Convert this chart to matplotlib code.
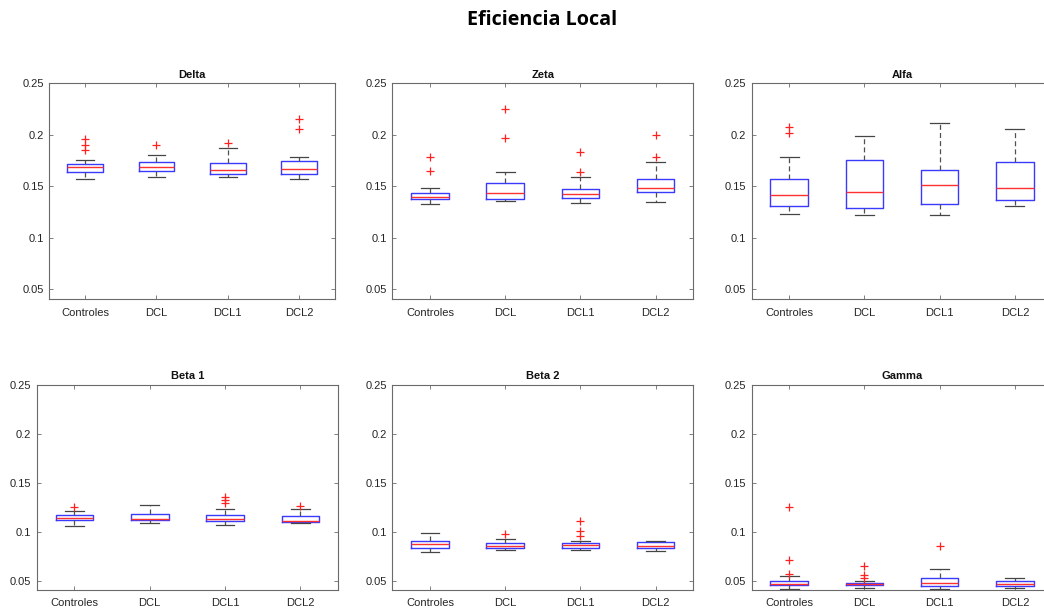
import matplotlib
matplotlib.use("Agg")
import matplotlib.pyplot as plt

groups = ["Controles", "DCL", "DCL1", "DCL2"]
panels = ["Delta", "Zeta", "Alfa", "Beta 1", "Beta 2", "Gamma"]
yticks = [0.05, 0.1, 0.15, 0.2, 0.25]
ytick_labels = ["0.05", "0.1", "0.15", "0.2", "0.25"]

# Box statistics per panel (rows) and group (columns)
whislo = [
    [0.1571, 0.1587, 0.1587, 0.1571],
    [0.1325, 0.1358, 0.1335, 0.1348],
    [0.1235, 0.1222, 0.1222, 0.1312],
    [0.1065, 0.1088, 0.1068, 0.1088],
    [0.0797, 0.0815, 0.0818, 0.0804],
    [0.0422, 0.0425, 0.0422, 0.0429],
]
q1 = [
    [0.1639, 0.1649, 0.1620, 0.1617],
    [0.1374, 0.1377, 0.1383, 0.1442],
    [0.1309, 0.1290, 0.1328, 0.1367],
    [0.1122, 0.1122, 0.1109, 0.1102],
    [0.0838, 0.0835, 0.0835, 0.0838],
    [0.0456, 0.0456, 0.0452, 0.0449],
]
med = [
    [0.1691, 0.1684, 0.1659, 0.1665],
    [0.1400, 0.1432, 0.1422, 0.1487],
    [0.1416, 0.1445, 0.1510, 0.1484],
    [0.1143, 0.1136, 0.1129, 0.1109],
    [0.0876, 0.0859, 0.0866, 0.0862],
    [0.0466, 0.0466, 0.0483, 0.0469],
]
q3 = [
    [0.1720, 0.1733, 0.1723, 0.1749],
    [0.1439, 0.1529, 0.1474, 0.1568],
    [0.1571, 0.1756, 0.1655, 0.1733],
    [0.1170, 0.1180, 0.1170, 0.1160],
    [0.0903, 0.0883, 0.0883, 0.0893],
    [0.0500, 0.0483, 0.0531, 0.0503],
]
whishi = [
    [0.1759, 0.1804, 0.1869, 0.1788],
    [0.1487, 0.1642, 0.1591, 0.1739],
    [0.1785, 0.1985, 0.2118, 0.2060],
    [0.1218, 0.1272, 0.1231, 0.1238],
    [0.0985, 0.0927, 0.0910, 0.0910],
    [0.0555, 0.0503, 0.0626, 0.0527],
]
fliers = [
    [[0.1956, 0.1901, 0.1853], [0.1901], [0.1917], [0.2150, 0.2060]],
    [[0.1782, 0.1646], [0.2254, 0.1966], [0.1830, 0.1636], [0.1998, 0.1787]],
    [[0.2079, 0.2015], [], [], []],
    [[0.1255], [], [0.1360, 0.1327, 0.1299], [0.1269]],
    [[], [0.0975], [0.1115, 0.1013, 0.0958], []],
    [[0.1252, 0.0714, 0.0568], [0.0653, 0.0561, 0.0527], [0.0860], []],
]

W, H = 1044, 609
# axes rectangles in pixels: left, top, right, bottom
rects_px = [
    (49.3, 83.3, 335.0, 299.3),
    (392.3, 83.3, 693.3, 299.3),
    (751.5, 83.3, 1052.5, 299.3),
    (36.7, 385.0, 338.0, 590.0),
    (392.3, 385.0, 693.3, 590.0),
    (751.5, 385.0, 1052.5, 590.0),
]
ylims = [(0.0403, 0.25)] * 3 + [(0.0408, 0.25)] * 3

fig = plt.figure(figsize=(W / 100, H / 100), dpi=100)
fig.patch.set_facecolor("white")

spine_col = "#6a6a6a"
text_col = "#262626"

for i, name in enumerate(panels):
    l, t, r, b = rects_px[i]
    ax = fig.add_axes([l / W, 1 - b / H, (r - l) / W, (b - t) / H])
    stats = []
    for j, g in enumerate(groups):
        stats.append(dict(
            whislo=whislo[i][j], q1=q1[i][j], med=med[i][j],
            q3=q3[i][j], whishi=whishi[i][j], fliers=fliers[i][j], label=g,
        ))
    ax.bxp(
        stats, positions=range(1, len(groups) + 1), widths=0.5,
        showfliers=True, patch_artist=False,
        boxprops=dict(color="#3a3aff", linewidth=1.0),
        medianprops=dict(color="#ff3030", linewidth=1.0),
        whiskerprops=dict(color="#505050", linewidth=0.9, linestyle=(0, (4, 2.5))),
        capprops=dict(color="#454545", linewidth=0.9),
        flierprops=dict(marker="+", markeredgecolor="#ff2020", markersize=6,
                        markeredgewidth=0.9, linestyle="none"),
    )
    ax.set_xlim(0.5, len(groups) + 0.5)
    ax.set_ylim(*ylims[i])
    ax.set_yticks(yticks)
    ax.set_yticklabels(ytick_labels)
    ax.set_xticks(range(1, len(groups) + 1))
    ax.set_xticklabels(groups)
    ax.tick_params(axis="both", direction="in", length=3, width=0.6,
                   colors=spine_col, labelcolor=text_col, labelsize=8,
                   top=True, right=True, pad=4)
    ax.tick_params(axis="x", pad=6)
    for lab in ax.get_xticklabels() + ax.get_yticklabels():
        lab.set_fontfamily("Liberation Sans")
    for s in ax.spines.values():
        s.set_color(spine_col)
        s.set_linewidth(0.8)
    ax.set_title(name, fontsize=8, fontweight="bold", family="Liberation Sans",
                 color="#111111", pad=4)

fig.text(542.5 / W, 1 - 20 / H, "Eficiencia Local", ha="center", va="center",
         fontsize=14.2, fontweight="bold", family="Open Sans", color="black")

fig.savefig("out.png", dpi=100)
